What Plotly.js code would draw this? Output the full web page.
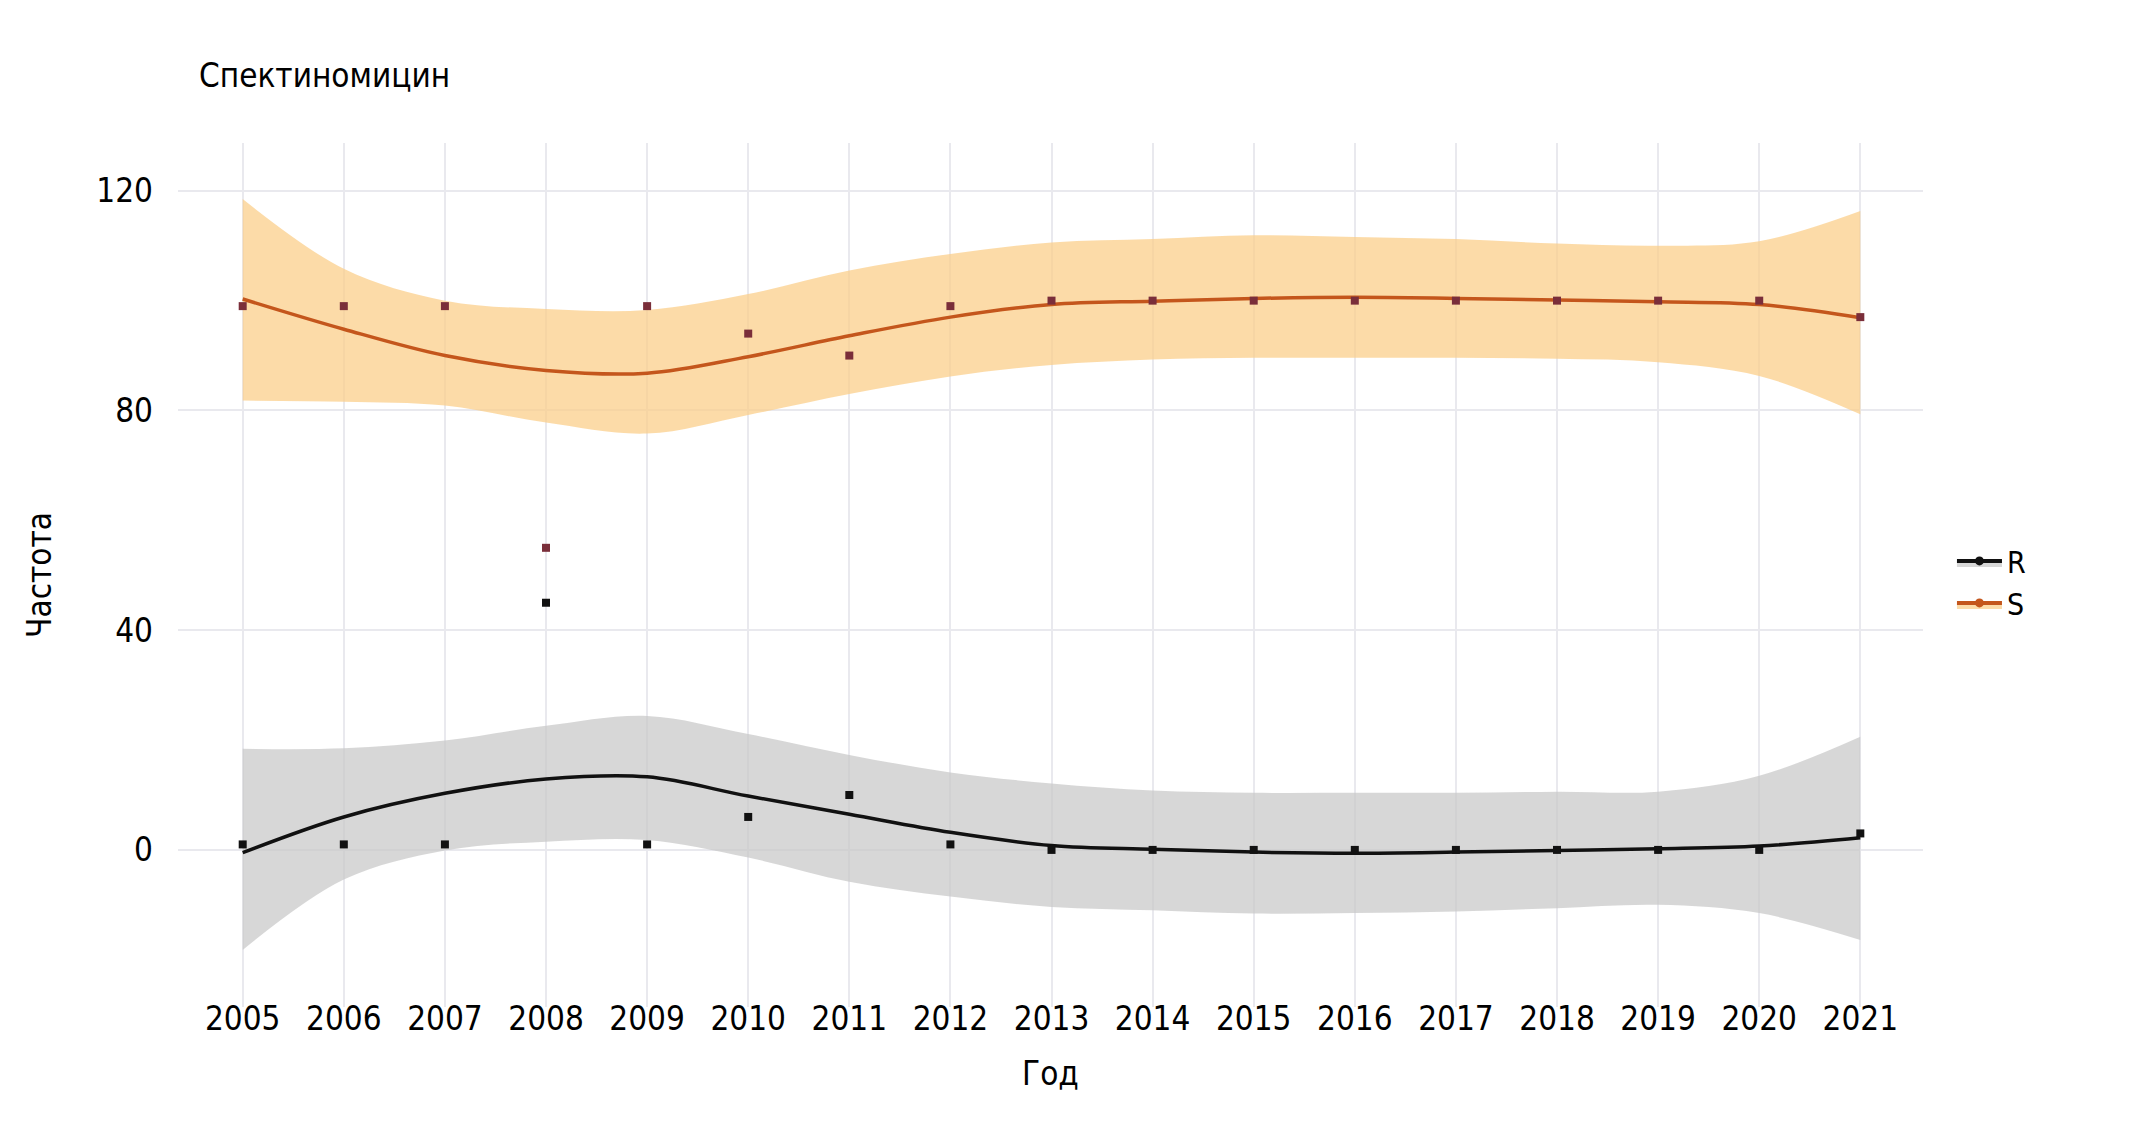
<!DOCTYPE html>
<html>
<head>
<meta charset="utf-8">
<script src="https://cdn.plot.ly/plotly-3.0.1.min.js"></script>
<style>
  html, body { margin: 0; padding: 0; background: #ffffff; }
  #chart { width: 2143px; height: 1148px; }
  #chart svg text { font-stretch: condensed; }
</style>
</head>
<body>
<div id="chart"></div>
<script>
// ---- data ----
const years = [2005, 2006, 2007, 2008, 2009, 2010, 2011, 2012, 2013, 2014, 2015, 2016, 2017, 2018, 2019, 2020, 2021];
const yearLabels = years.map(String);

// observed frequencies
const pointsR = [1, 1, 1, 45, 1, 6, 10, 1, 0, 0, 0, 0, 0, 0, 0, 0, 3];
const pointsS = [99, 99, 99, 55, 99, 94, 90, 99, 100, 100, 100, 100, 100, 100, 100, 100, 97];

// smoothed curves
const smoothR = [-0.5, 6.0, 10.3, 12.9, 13.3, 9.8, 6.5, 3.2, 0.8, 0.1, -0.4, -0.6, -0.4, -0.1, 0.2, 0.7, 2.2];
const smoothS = [100.3, 94.8, 90.0, 87.3, 86.8, 89.8, 93.6, 97.0, 99.3, 99.9, 100.4, 100.6, 100.4, 100.1, 99.8, 99.3, 96.9];

// confidence bands
const upperR = [18.4, 18.5, 19.9, 22.6, 24.4, 21.1, 17.3, 14.1, 12.1, 10.8, 10.4, 10.4, 10.4, 10.6, 10.6, 13.5, 20.6];
const lowerR = [-18.2, -5.4, -0.1, 1.5, 1.8, -1.4, -5.8, -8.5, -10.4, -11.0, -11.6, -11.5, -11.2, -10.6, -10.0, -11.5, -16.4];
const upperS = [118.5, 105.8, 100.0, 98.5, 98.3, 101.2, 105.5, 108.5, 110.6, 111.2, 111.9, 111.6, 111.2, 110.4, 110.0, 110.8, 116.3];
const lowerS = [81.8, 81.6, 80.9, 77.8, 75.8, 79.2, 83.0, 86.2, 88.3, 89.3, 89.6, 89.6, 89.6, 89.4, 88.8, 86.3, 79.3];

const yTicks = [0, 40, 80, 120];
const seriesNames = ['R', 'S'];

const chartTitle = 'Спектиномицин';
const xTitle = 'Год';
const yTitle = 'Частота';

// ---- styles ----
const FONT = '"DejaVu Sans Condensed", "DejaVu Sans", sans-serif';
const FS = 33;
const colR = '#111111';
const colS = '#c4561c';
const ptS = '#7a2e3a';
const fillR = 'rgba(200,200,200,0.72)';
const fillS = 'rgba(251,206,138,0.74)';

const band = (y, fill, fillcolor) => ({
  x: years, y: y, type: 'scatter', mode: 'lines',
  line: {width: 0, shape: 'spline', smoothing: 1},
  fill: fill, fillcolor: fillcolor,
  hoverinfo: 'skip', showlegend: false
});

const traces = [
  band(lowerR, 'none', fillR),
  band(upperR, 'tonexty', fillR),
  band(lowerS, 'none', fillS),
  band(upperS, 'tonexty', fillS),
  {x: years, y: smoothR, type: 'scatter', mode: 'lines',
   line: {color: colR, width: 3.5, shape: 'spline', smoothing: 1}, showlegend: false},
  {x: years, y: smoothS, type: 'scatter', mode: 'lines',
   line: {color: colS, width: 3.5, shape: 'spline', smoothing: 1}, showlegend: false},
  {x: years, y: pointsR, type: 'scatter', mode: 'markers',
   marker: {color: colR, size: 8, symbol: 'square'}, showlegend: false},
  {x: years, y: pointsS, type: 'scatter', mode: 'markers',
   marker: {color: ptS, size: 8, symbol: 'square'}, showlegend: false},
  // legend entries
  {x: [null], y: [null], type: 'scatter', mode: 'lines+markers', name: seriesNames[0],
   fill: 'toself', fillcolor: fillR, line: {color: colR, width: 4},
   marker: {color: colR, size: 9}, showlegend: true},
  {x: [null], y: [null], type: 'scatter', mode: 'lines+markers', name: seriesNames[1],
   fill: 'toself', fillcolor: fillS, line: {color: colS, width: 4},
   marker: {color: colS, size: 9}, showlegend: true}
];

const fnt = (s) => ({family: FONT, size: s, color: '#000000'});

const layout = {
  width: 2143, height: 1148,
  paper_bgcolor: '#ffffff', plot_bgcolor: '#ffffff',
  margin: {l: 178, r: 220, t: 143, b: 141, pad: 0},
  font: fnt(FS),
  title: {
    text: chartTitle, font: fnt(FS),
    xref: 'container', x: 199 / 2143, xanchor: 'left',
    yref: 'container', y: 1 - 75 / 1148, yanchor: 'middle'
  },
  xaxis: {
    range: [2004.36, 2021.62],
    tickmode: 'array', tickvals: years, ticktext: yearLabels,
    showgrid: true, gridcolor: '#e9e9ee', gridwidth: 2,
    zeroline: false, showline: false, ticks: '',
    ticklabelstandoff: -11,
    tickfont: fnt(FS),
    title: {text: xTitle, font: fnt(FS), standoff: 24}
  },
  yaxis: {
    range: [-28.6, 128.7],
    tickmode: 'array', tickvals: yTicks, ticktext: yTicks.map(String),
    showgrid: true, gridcolor: '#e9e9ee', gridwidth: 2,
    zeroline: false, showline: false, ticks: '',
    ticklabelstandoff: 24,
    tickfont: fnt(FS),
    title: {text: yTitle, font: fnt(FS), standoff: 34}
  },
  legend: {
    x: 1.0166, xanchor: 'left', y: 0.492, yanchor: 'middle',
    traceorder: 'normal',
    itemwidth: 45, bgcolor: 'rgba(0,0,0,0)',
    font: fnt(30)
  },
  showlegend: true
};

Plotly.newPlot('chart', traces, layout, {displayModeBar: false, staticPlot: true});
</script>
</body>
</html>
